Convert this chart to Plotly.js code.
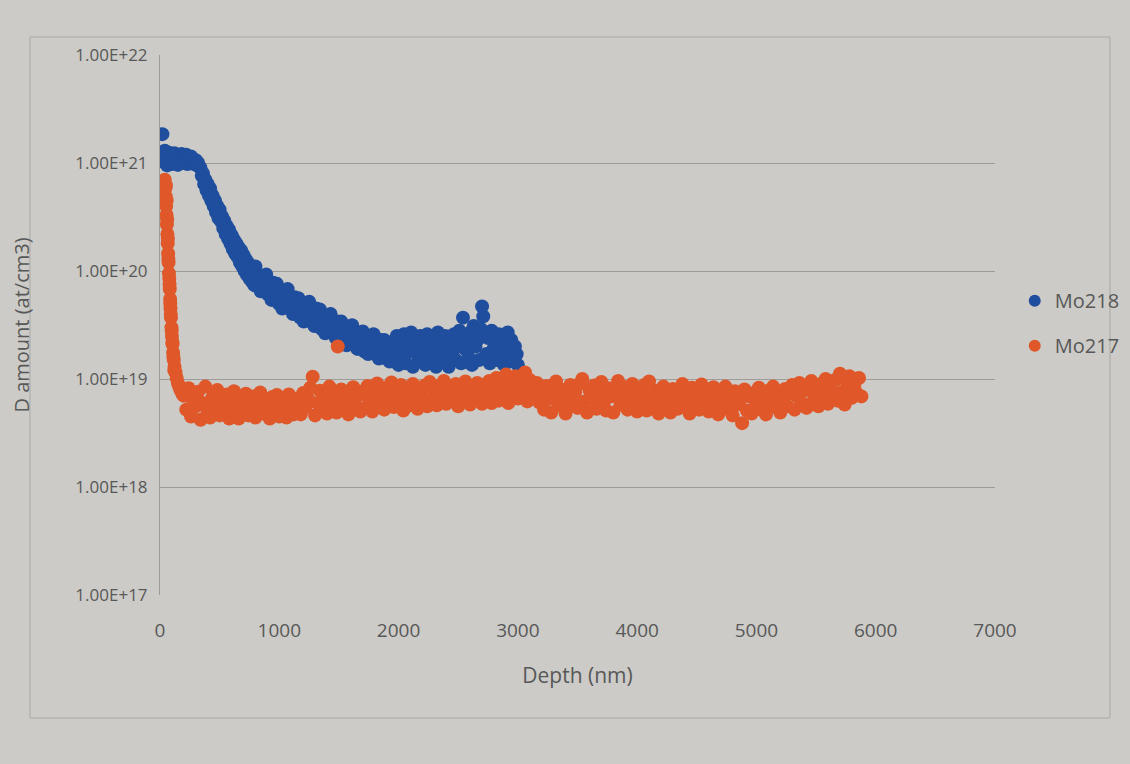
<!DOCTYPE html>
<html>
<head>
<meta charset="utf-8">
<script src="https://cdn.plot.ly/plotly-3.0.1.min.js"></script>
<style>
  html, body { margin: 0; padding: 0; background: #cccbc7; }
  #chart { width: 1130px; height: 764px; }
</style>
</head>
<body>
<div id="chart"></div>
<script>
// Deuterium depth profiles in two Mo samples.
// Depth in nm; D amount stored in units of 1e18 at/cm3.

const mo218Depth = [
  20, 25, 30, 40, 45, 55, 60, 70, 80, 90, 100, 110, 120, 130, 140, 150, 160, 170,
  180, 190, 200, 210, 220, 230, 240, 250, 260, 270, 280, 290, 300, 310, 320, 330,
  340, 350, 360, 370, 380, 390, 400, 410, 420, 430, 440, 450, 460, 470, 480, 490,
  500, 510, 520, 530, 540, 550, 560, 570, 580, 590, 600, 610, 620, 630, 640, 650,
  660, 670, 680, 690, 700, 710, 720, 730, 740, 750, 760, 770, 780, 790, 800, 815,
  830, 845, 860, 875, 890, 905, 920, 935, 950, 965, 980, 995, 1010, 1025, 1040,
  1055, 1070, 1085, 1100, 1115, 1130, 1145, 1160, 1175, 1190, 1205, 1220, 1235,
  1250, 1265, 1280, 1295, 1310, 1325, 1340, 1355, 1370, 1385, 1400, 1415, 1430,
  1445, 1460, 1475, 1490, 1505, 1520, 1535, 1550, 1565, 1580, 1595, 1610, 1625,
  1640, 1655, 1670, 1685, 1700, 1715, 1730, 1745, 1760, 1775, 1790, 1805, 1820,
  1835, 1850, 1865, 1880, 1895, 1910, 1925, 1940, 1955, 1970,
  1985, 2000, 2015, 2030, 2045, 2060, 2075, 2090, 2105, 2120, 2135, 2150, 2165,
  2180, 2195, 2210, 2225, 2240, 2255, 2270, 2285, 2300, 2315, 2330, 2345, 2360,
  2375, 2390, 2405, 2420, 2435, 2450, 2465, 2480, 2495, 2510, 2525, 2540, 2555,
  2570, 2585, 2600, 2615, 2630, 2645, 2660, 2675, 2690, 2700, 2710, 2720, 2735,
  2750, 2765, 2780, 2795, 2810, 2825, 2840, 2855, 2870, 2885, 2900, 2915, 2930,
  2945, 2960, 2975, 2990, 3000
];
const mo218Amount = [
  1850, 1250, 1100, 1300, 1000, 1180, 950, 1250, 1050, 1200, 980, 1150, 1230, 1020,
  1120, 960, 1180, 1080, 1210, 1000, 1150, 1090, 1190, 980, 1120, 1040, 1150, 990,
  1080, 1010, 1060, 950, 1000, 920,
  900, 760, 800, 640, 700, 560, 640, 500, 580, 450, 500, 400, 450, 350, 400, 310,
  370, 290, 320, 250, 290, 220, 260, 200, 240, 180, 215, 160, 195, 145, 180, 135,
  165, 120, 155, 110, 140, 100, 128, 92, 118, 85, 110, 80, 102, 74, 110, 72,
  85, 65, 90, 70, 93, 61, 74, 54, 78, 61, 76, 50, 60, 45, 64,
  50, 68, 45, 54, 40, 57, 45, 56, 37, 44, 34, 48, 38,
  52, 34, 41, 31, 45, 35, 44, 29, 35, 26.5, 37, 29, 40,
  26.5, 32, 24, 34, 27, 34, 22.5, 27, 20.5, 29, 23, 31.5, 21,
  25, 19, 27, 21.5, 27.5, 18, 21.5, 17, 23.5, 18.5, 26, 17, 21,
  15.5, 23, 18, 23, 15.5, 18.5, 14.5, 21, 16.5, 23,
  25, 13.5, 20, 16, 26, 14, 22, 18, 27, 13, 19, 23, 15,
  25, 17, 21, 13.5, 26, 18, 15, 24, 20, 13, 27, 16, 22,
  14.5, 25, 19, 13, 23, 17, 26, 15, 21, 28, 14, 37, 19,
  24, 16, 27, 13.5, 31, 20, 23, 15, 29, 47, 38, 26, 17,
  24, 14, 28, 19, 22, 15, 26, 18, 24, 13.5, 21, 27, 16,
  23, 14.5, 20, 17, 13.5
];

const mo217Depth = [
  40, 45, 48, 50, 52, 55, 56, 58, 60, 62, 65, 66, 68, 70, 72, 75, 78, 80, 82, 85,
  86, 88, 90, 92, 96, 98, 100, 104, 105, 110, 112, 116, 120, 122, 130, 140, 150,
  160, 170, 180, 190,
  200, 220, 240, 260, 280, 300, 320, 340, 360, 380, 400, 420, 440, 460, 480, 500,
  520, 540, 560, 580, 600, 620,
  640, 660, 680, 700, 720, 740, 760, 780, 800, 820, 840, 860, 880, 900, 920, 940,
  960, 980, 1000, 1020, 1040, 1060, 1080, 1100, 1120, 1140, 1160,
  1180, 1200, 1220, 1240, 1260, 1280, 1300, 1320, 1340, 1360, 1380, 1400, 1420,
  1440, 1460, 1480, 1490, 1500, 1520, 1540, 1560, 1580, 1600, 1620, 1640, 1660,
  1680, 1700,
  1720, 1740, 1760, 1780, 1800, 1820, 1840, 1860, 1880, 1900, 1920, 1940, 1960,
  1980, 2000, 2020, 2040, 2060, 2080, 2100, 2120, 2140, 2160, 2180, 2200, 2220, 2240,
  2260, 2280, 2300, 2320, 2340, 2360, 2380, 2400, 2420, 2440, 2460, 2480, 2500,
  2520, 2540, 2560, 2580, 2600, 2620, 2640, 2660, 2680, 2700, 2720, 2740, 2760,
  2780, 2800,
  2820, 2840, 2860, 2880, 2900, 2920, 2940, 2960, 2980, 3000, 3020, 3040, 3060,
  3080, 3100, 3120, 3140,
  3160, 3180, 3200, 3220, 3240, 3260, 3280, 3300, 3320, 3340, 3360, 3380, 3400,
  3420, 3440, 3460,
  3480, 3500, 3520, 3540, 3560, 3580, 3600, 3620, 3640, 3660, 3680, 3700, 3720,
  3740, 3760, 3780, 3800, 3820, 3840, 3860, 3880, 3900, 3920, 3940, 3960, 3980,
  4000, 4020,
  4040, 4060, 4080, 4100, 4120, 4140, 4160, 4180, 4200, 4220, 4240, 4260, 4280,
  4300, 4320, 4340, 4360, 4380, 4400, 4420, 4440, 4460, 4480, 4500, 4520, 4540, 4560,
  4580, 4600, 4620, 4640, 4660, 4680, 4700, 4720, 4740, 4760, 4780, 4800, 4820,
  4840, 4860, 4880, 4900, 4920, 4940, 4960, 4980, 5000, 5020, 5040, 5060, 5080,
  5100, 5120, 5140, 5160, 5180, 5200, 5220, 5240,
  5260, 5280, 5300, 5320, 5340, 5360, 5380, 5400, 5420, 5440, 5460, 5480, 5500,
  5520, 5540, 5560, 5580, 5600, 5620, 5640, 5660, 5680, 5700, 5720, 5740, 5760,
  5780, 5800, 5820, 5840, 5860, 5880
];
const mo217Amount = [
  700, 580, 490, 620, 400, 330, 450, 270, 300, 220, 180, 200, 145, 130, 120, 95,
  85, 75, 68, 55, 50, 45, 40, 37, 30, 28, 25, 22, 21, 17.5, 16, 15, 12, 13, 11.5,
  10.2, 9.2, 8.6, 8.0, 7.6, 7.2,
  7.0, 5.2, 8.2, 4.5, 6.3, 5.6, 7.6, 4.2, 6.0, 8.5, 5.0, 4.4, 6.8, 5.8, 7.9, 4.6,
  6.4, 5.3, 7.2, 4.3, 6.1, 7.7,
  5.0, 4.3, 6.6, 5.4, 7.3, 4.6, 5.9, 6.9, 4.4, 5.6, 7.5, 4.8, 6.2, 5.1, 4.3, 6.8,
  5.7, 7.1, 4.5, 5.3, 6.4, 4.4, 7.2, 5.5, 4.7, 6.5, 5.9,
  4.7, 7.4, 5.5, 6.6, 8.3, 10.5, 4.6, 6.0, 7.8, 5.2, 6.9, 4.8, 8.5,
  5.8, 7.1, 4.9, 20, 6.4, 8.0, 5.4, 7.3, 4.7, 6.2, 8.4, 5.6, 7.0,
  5.0, 7.7,
  5.4, 8.6, 6.3, 5.0, 7.6, 9.1, 5.8, 7.0, 5.2, 8.3, 6.6, 9.3, 5.5,
  7.4, 6.0, 8.8, 5.1, 7.1, 8.0, 5.7, 9.0, 6.4, 5.3, 7.8, 6.8, 8.7, 5.6,
  9.4, 6.1, 7.7, 5.7, 8.6, 6.7, 9.6, 5.9, 7.3, 8.4, 6.2, 9.0, 5.6,
  7.9, 6.5, 9.5, 7.0, 5.8, 8.2, 6.4, 9.2, 7.4, 5.9, 8.8, 6.8, 9.6,
  6.0, 7.6,
  10.2, 6.3, 8.5, 7.1, 11.0, 6.0, 9.3, 7.6, 10.6, 6.6, 8.9, 7.3, 11.5,
  6.2, 9.8, 7.9, 6.8,
  9.2, 6.1, 7.8, 5.2, 8.6, 6.6, 4.9, 7.4, 9.5, 5.7, 8.0, 6.3, 4.8,
  7.2, 8.8, 5.9,
  7.5, 5.4, 9.1, 10.0, 6.2, 4.9, 7.9, 6.6, 8.7, 5.3, 7.1, 9.4, 6.0,
  5.1, 8.2, 6.9, 4.9, 7.6, 9.6, 5.8, 6.5, 8.4, 5.2, 7.3, 9.0, 6.1,
  5.0, 7.8,
  6.4, 8.8, 5.1, 9.5, 6.9, 5.5, 7.8, 4.8, 6.2, 8.5, 5.7, 7.3, 4.9,
  8.1, 6.0, 5.3, 7.6, 9.0, 5.6, 6.8, 4.8, 8.3, 6.3, 7.1, 5.2, 8.9, 6.0,
  7.5, 5.0, 6.6, 8.4, 5.4, 4.7, 7.0, 6.1, 8.5, 5.3, 6.8, 4.6, 7.7,
  5.8, 6.4, 3.9, 8.0, 5.1, 6.9, 4.8, 7.4, 5.9, 8.3, 5.2, 6.5, 4.7,
  7.8, 6.0, 8.5, 5.5, 7.1, 4.9, 6.7, 8.1,
  5.6, 7.4, 8.8, 5.2, 6.9, 9.2, 6.0, 7.8, 5.4, 8.5, 9.6, 6.4, 7.3,
  5.6, 9.0, 6.8, 10.0, 5.9, 8.2, 7.1, 9.8, 6.3, 11.2, 7.6, 5.8, 9.4,
  10.6, 6.7, 8.6, 7.4, 10.2, 6.9
];

const unit = 1e18; // stored amounts are in 1e18 at/cm3

const yTickVals = [1e17, 1e18, 1e19, 1e20, 1e21, 1e22];
const yTickText = ['1.00E+17', '1.00E+18', '1.00E+19', '1.00E+20', '1.00E+21', '1.00E+22'];
const xTickVals = [0, 1000, 2000, 3000, 4000, 5000, 6000, 7000];

const textGrey = '#585858';
const gridGrey = '#9d9c99';
const font = '"Open Sans", "Liberation Sans", sans-serif';

const traces = [
  {
    name: 'Mo218',
    x: mo218Depth,
    y: mo218Amount.map(v => v * unit),
    type: 'scatter',
    mode: 'markers',
    legendgroup: 'a',
    marker: { color: '#1f4e9e', size: 14, line: { width: 0 } }
  },
  {
    name: 'Mo217',
    x: mo217Depth,
    y: mo217Amount.map(v => v * unit),
    type: 'scatter',
    mode: 'markers',
    legendgroup: 'b',
    marker: { color: '#e0582a', size: 14, line: { width: 0 } }
  }
];

const layout = {
  width: 1130,
  height: 764,
  margin: { l: 160, r: 135, t: 55, b: 169 },
  paper_bgcolor: '#cccbc7',
  plot_bgcolor: '#cccbc7',
  font: { family: font, color: textGrey },
  showlegend: true,
  legend: {
    xref: 'container', yref: 'container',
    x: 0.898, y: 0.577, xanchor: 'left', yanchor: 'middle',
    bgcolor: 'rgba(0,0,0,0)',
    font: { size: 20, color: textGrey, family: font },
    tracegroupgap: 16,
    itemwidth: 30,
    itemsizing: 'constant'
  },
  xaxis: {
    range: [0, 7000],
    tickmode: 'array',
    tickvals: xTickVals,
    showgrid: false,
    zeroline: false,
    showline: false,
    ticks: '',
    ticklabelstandoff: 22,
    tickfont: { size: 19, color: textGrey },
    title: { text: 'Depth (nm)', font: { size: 21, color: textGrey }, standoff: 26 }
  },
  yaxis: {
    type: 'log',
    range: [17, 22],
    tickmode: 'array',
    tickvals: yTickVals,
    ticktext: yTickText,
    showgrid: true,
    gridcolor: gridGrey,
    gridwidth: 1,
    zeroline: false,
    showline: true,
    linecolor: gridGrey,
    linewidth: 1,
    ticks: '',
    ticklabelstandoff: 8,
    tickfont: { size: 17, color: textGrey },
    title: { text: 'D amount (at/cm3)', font: { size: 20, color: textGrey }, standoff: 40 }
  },
  shapes: [
    {
      type: 'rect', xref: 'paper', yref: 'paper',
      x0: -0.1557, x1: 1.1377, y0: -0.2278, y1: 1.0333,
      line: { color: '#a9a8a4', width: 1 },
      fillcolor: 'rgba(0,0,0,0)',
      layer: 'below'
    }
  ]
};

Plotly.newPlot('chart', traces, layout, { displayModeBar: false, staticPlot: true });
</script>
</body>
</html>
